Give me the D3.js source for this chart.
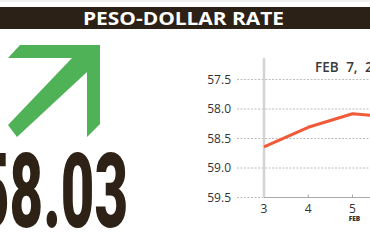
<!DOCTYPE html>
<html lang="en">
<head>
    <meta charset="UTF-8">
    <title>Peso-Dollar Rate</title>
    <script src="https://d3js.org/d3.v7.min.js"></script>
    <style>
        body { margin: 0; background: #fff; }
        svg { display: block; }
        .tick-label { font-family: "Open Sans", sans-serif; font-size: 12px; fill: #333; }
    </style>
</head>
<body>
    <div id="chart"></div>
    <script>
        // Data
        const days = [3, 4, 5, 6, 7];
        const rates = [58.64, 58.31, 58.08, 58.15, 58.03];
        const yTicks = [57.5, 58.0, 58.5, 59.0, 59.5];
        const xTicks = [3, 4, 5, 6, 7];
        const title = "PESO-DOLLAR RATE";
        const dateLabel = "FEB 7, 2025";

        const width = 370;
        const height = 242;

        const svg = d3.select("#chart")
            .append("svg")
            .attr("width", width)
            .attr("height", height);

        // Title bar
        svg.append("line")
            .attr("x1", 0).attr("x2", width)
            .attr("y1", 1).attr("y2", 1)
            .attr("stroke", "#e2e2e2");
        svg.append("rect")
            .attr("x", 0).attr("y", 7)
            .attr("width", width).attr("height", 22)
            .attr("fill", "#2b2117");
        svg.append("text")
            .attr("x", 83).attr("y", 25)
            .attr("font-family", "Open Sans, sans-serif")
            .attr("font-weight", 700)
            .attr("font-size", 18.5)
            .attr("textLength", 201)
            .attr("lengthAdjust", "spacingAndGlyphs")
            .attr("fill", "#fff")
            .text(title);

        // Green up arrow
        const arrow = d3.path();
        arrow.moveTo(100, 45);
        arrow.lineTo(20, 45);
        arrow.lineTo(8, 58);
        arrow.lineTo(72, 58);
        arrow.lineTo(8, 125);
        arrow.lineTo(17, 137);
        arrow.lineTo(87, 72);
        arrow.lineTo(87, 137);
        arrow.lineTo(100, 124);
        arrow.closePath();
        svg.append("path")
            .attr("d", arrow.toString())
            .attr("fill", "#4fb257");

        // Latest rate
        svg.append("text")
            .attr("x", -24).attr("y", 227)
            .attr("font-family", "Roboto, sans-serif")
            .attr("font-weight", 900)
            .attr("font-size", 104)
            .attr("textLength", 152)
            .attr("lengthAdjust", "spacingAndGlyphs")
            .attr("fill", "#2e2216")
            .text(rates[rates.length - 1].toFixed(2));

        // Scales (rate axis runs downward)
        const x = d3.scaleLinear().domain([3, 7]).range([264, 441]);
        const y = d3.scaleLinear().domain([57.5, 59.5]).range([79.5, 197.5]);

        // Gridlines
        svg.selectAll(".grid")
            .data(yTicks)
            .join("line")
            .attr("class", "grid")
            .attr("x1", 237).attr("x2", width)
            .attr("y1", d => y(d)).attr("y2", d => y(d))
            .attr("stroke", "#bdbdbd")
            .attr("stroke-width", 1)
            .attr("stroke-dasharray", "2,1.5");

        svg.selectAll(".ylab")
            .data(yTicks)
            .join("text")
            .attr("class", "tick-label")
            .attr("x", 231)
            .attr("y", d => y(d))
            .attr("dy", "0.35em")
            .attr("text-anchor", "end")
            .text(d => d.toFixed(1));

        // Axes lines
        svg.append("line")
            .attr("x1", x(3)).attr("x2", x(3))
            .attr("y1", 58).attr("y2", y(59.5))
            .attr("stroke", "#d3d3d3")
            .attr("stroke-width", 2.5);
        svg.append("line")
            .attr("x1", x(3)).attr("x2", width)
            .attr("y1", y(59.5)).attr("y2", y(59.5))
            .attr("stroke", "#aaa")
            .attr("stroke-width", 1);

        svg.selectAll(".xtick")
            .data(xTicks.slice(1))
            .join("line")
            .attr("class", "xtick")
            .attr("x1", d => x(d)).attr("x2", d => x(d))
            .attr("y1", y(59.5) - 3).attr("y2", y(59.5))
            .attr("stroke", "#aaa");

        svg.selectAll(".xlab")
            .data(xTicks)
            .join("text")
            .attr("class", "tick-label")
            .attr("x", d => x(d))
            .attr("y", 213)
            .attr("text-anchor", "middle")
            .text(d => d);

        svg.append("text")
            .attr("x", x(5) + 2)
            .attr("y", 221)
            .attr("text-anchor", "middle")
            .attr("font-family", "Open Sans, sans-serif")
            .attr("font-weight", 800)
            .attr("font-size", 6.5)
            .attr("fill", "#333")
            .text("FEB");

        svg.append("text")
            .attr("x", 315)
            .attr("y", 72)
            .attr("font-family", "Open Sans, sans-serif")
            .attr("font-weight", 600)
            .attr("font-size", 13.5)
            .attr("word-spacing", 4)
            .attr("fill", "#3a3a3a")
            .text(dateLabel);

        // Rate line
        const line = d3.line()
            .x((d, i) => x(days[i]))
            .y(d => y(d));

        svg.append("path")
            .datum(rates)
            .attr("d", line)
            .attr("fill", "none")
            .attr("stroke", "#f15a38")
            .attr("stroke-width", 3)
            .attr("stroke-linejoin", "round");
    </script>
</body>
</html>
